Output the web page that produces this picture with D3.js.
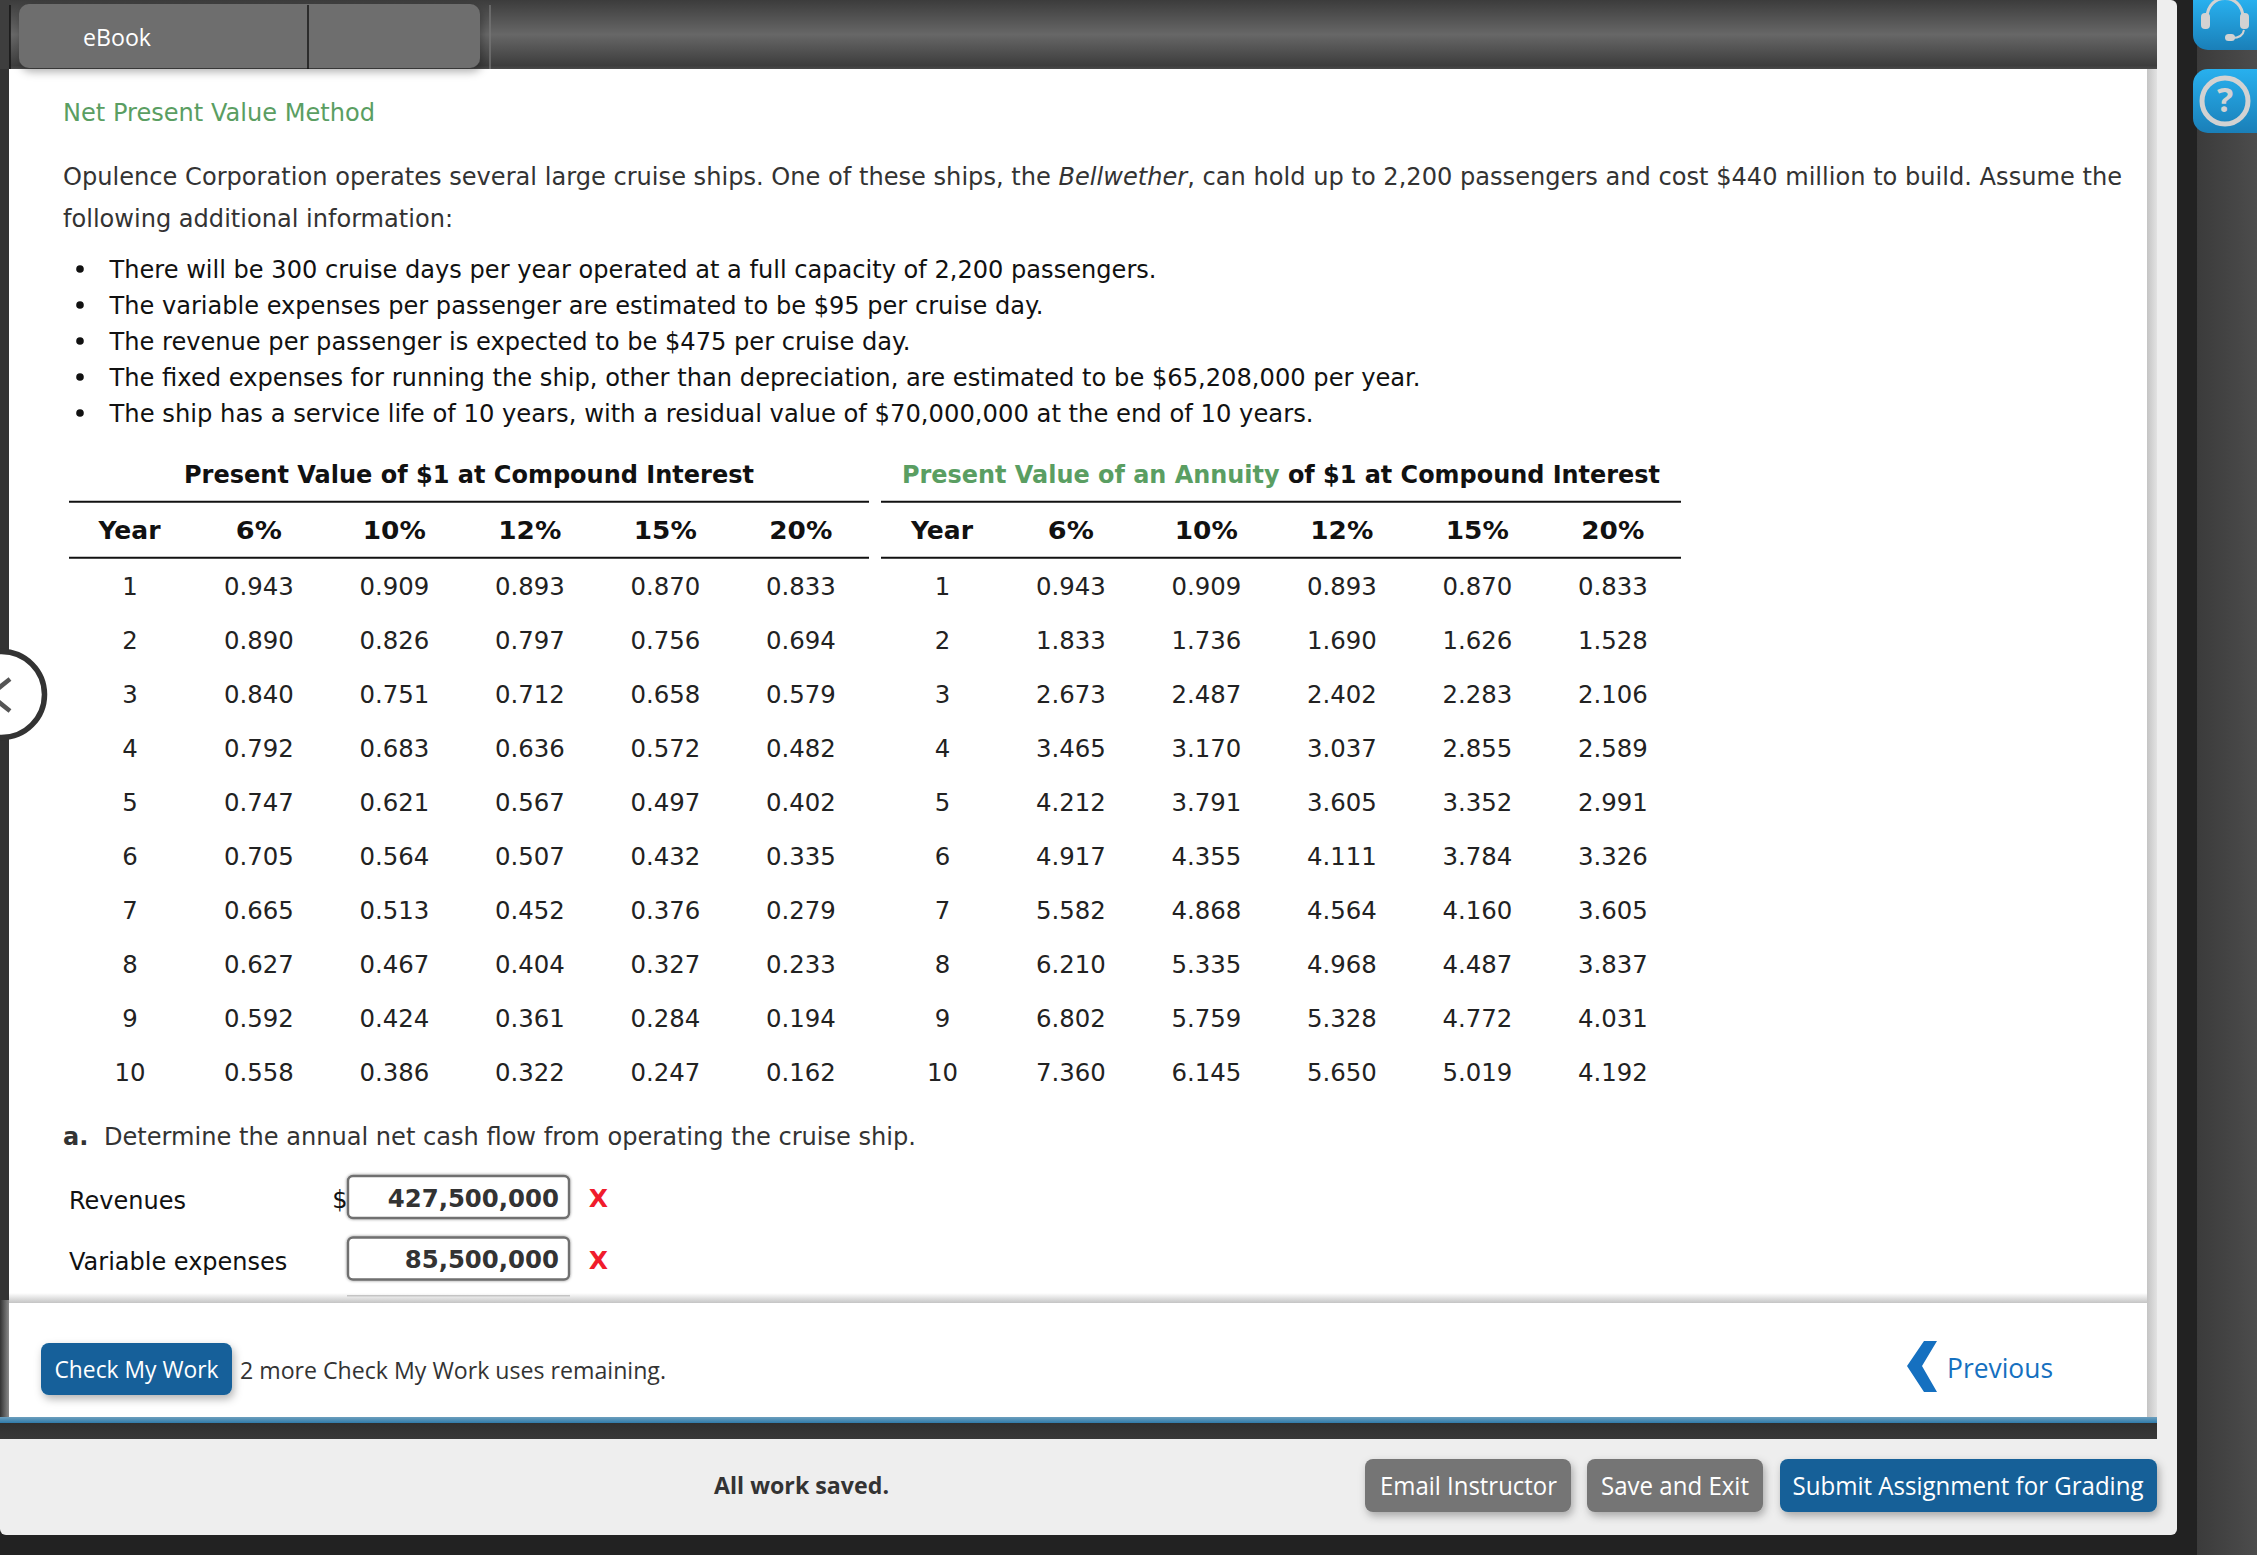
<!DOCTYPE html>
<html><head><meta charset="utf-8">
<script src="https://cdn.jsdelivr.net/npm/d3@7"></script>
<style>html,body{margin:0;padding:0;background:#222;overflow:hidden}svg{display:block}</style>
</head><body><svg id="c" width="2257" height="1555" viewBox="0 0 2257 1555"></svg>
<script>
const years = [1,2,3,4,5,6,7,8,9,10];
const rateLabels = ["6%","10%","12%","15%","20%"];
const pv6  = [0.943,0.890,0.840,0.792,0.747,0.705,0.665,0.627,0.592,0.558];
const pv10 = [0.909,0.826,0.751,0.683,0.621,0.564,0.513,0.467,0.424,0.386];
const pv12 = [0.893,0.797,0.712,0.636,0.567,0.507,0.452,0.404,0.361,0.322];
const pv15 = [0.870,0.756,0.658,0.572,0.497,0.432,0.376,0.327,0.284,0.247];
const pv20 = [0.833,0.694,0.579,0.482,0.402,0.335,0.279,0.233,0.194,0.162];
const an6  = [0.943,1.833,2.673,3.465,4.212,4.917,5.582,6.210,6.802,7.360];
const an10 = [0.909,1.736,2.487,3.170,3.791,4.355,4.868,5.335,5.759,6.145];
const an12 = [0.893,1.690,2.402,3.037,3.605,4.111,4.564,4.968,5.328,5.650];
const an15 = [0.870,1.626,2.283,2.855,3.352,3.784,4.160,4.487,4.772,5.019];
const an20 = [0.833,1.528,2.106,2.589,2.991,3.326,3.605,3.837,4.031,4.192];
const bullets = [
 "There will be 300 cruise days per year operated at a full capacity of 2,200 passengers.",
 "The variable expenses per passenger are estimated to be $95 per cruise day.",
 "The revenue per passenger is expected to be $475 per cruise day.",
 "The fixed expenses for running the ship, other than depreciation, are estimated to be $65,208,000 per year.",
 "The ship has a service life of 10 years, with a residual value of $70,000,000 at the end of 10 years."];
const bulletWidths = [1047,934,801,1311,1204];
const answerLabels = ["Revenues","Variable expenses"];
const answerValues = [427500000,85500000];

const svg = d3.select("#c");
const defs = svg.append("defs");
function grad(id,dir,stops){
  const g=defs.append("linearGradient").attr("id",id).attr("x1",0).attr("y1",0)
    .attr("x2",dir==="h"?1:0).attr("y2",dir==="h"?0:1);
  stops.forEach(s=>g.append("stop").attr("offset",s[0]).attr("stop-color",s[1]));
}
grad("bar","v",[[0,"#3c3c3c"],[.5,"#676767"],[.95,"#3d3d3d"],[1,"#4a4a4a"]]);
grad("sideR","h",[[0,"#3b3b3b"],[1,"#4c4c4c"]]);
grad("stripe","v",[[0,"#6d9fbd"],[1,"#2f7bab"]]);
grad("darkBand","v",[[0,"#2f2f2f"],[1,"#383838"]]);
grad("blueIcon","v",[[0,"#28b0ee"],[1,"#1a7fb8"]]);
grad("shadowR","h",[[0,"#c4c4c4"],[1,"#e2e2e2"]]);
grad("shadowT","v",[[0,"#ffffff"],[1,"#c4c4c4"]]);
grad("shadowL","h",[[0,"#333"],[1,"#8a8a8a"]]);
const sh=defs.append("filter").attr("id","ds").attr("x","-20%").attr("y","-20%").attr("width","140%").attr("height","150%");
sh.append("feDropShadow").attr("dx",2).attr("dy",4).attr("stdDeviation",4).attr("flood-color","#000").attr("flood-opacity",.3);
const soft=defs.append("filter").attr("id","is").attr("x","-5%").attr("y","-10%").attr("width","110%").attr("height","120%");
soft.append("feDropShadow").attr("dx",0).attr("dy",0).attr("stdDeviation",1.5).attr("flood-color","#000").attr("flood-opacity",.45);

const VERD="'DejaVu Sans',sans-serif", OPEN="'Open Sans',sans-serif";
function rect(x,y,w,h,fill,r){const s=svg.append("rect").attr("x",x).attr("y",y).attr("width",w).attr("height",h).attr("fill",fill);if(r)s.attr("rx",r);return s;}
function text(str,x,cy,o={}){
  const fs=o.size||24;
  const s=svg.append("text").attr("x",x).attr("y",cy+fs*0.36)
   .attr("font-family",o.font||VERD).attr("font-size",fs).attr("font-weight",o.bold?700:400)
   .attr("fill",o.fill||"#333").attr("text-anchor",o.anchor||"start");
  if(str) s.text(str);
  if(o.width) s.attr("textLength",o.width).attr("lengthAdjust","spacingAndGlyphs");
  return s;
}

/* page frame */
rect(0,0,2257,1555,"#222");
rect(2197,0,60,1555,"url(#sideR)");
rect(0,0,2177,1535,"#eeeeee",6);
rect(0,0,2157,69,"url(#bar)");
rect(0,69,9,1348,"#333");
rect(0,1300,9,117,"url(#shadowL)");
rect(9,69,2138,1348,"#fff");
rect(2147,69,10,1348,"url(#shadowR)");
rect(9,1293,2138,10,"url(#shadowT)");
rect(0,1417,2157,6,"url(#stripe)");
rect(0,1423,2157,16,"url(#darkBand)");
rect(0,0,10,69,"#3e3e3e");

/* tab */
rect(19,4,461,64,"#6e6e6e",10).attr("filter","url(#ds)");
[[10,"#111"],[308,"#111"],[490,"#777"]].forEach(d=>svg.append("line").attr("x1",d[0]).attr("x2",d[0]).attr("y1",5).attr("y2",69).attr("stroke",d[1]).attr("stroke-width",1.4));
text("eBook",83,37.5,{font:OPEN,size:24,fill:"#fff",width:68});

/* side icons */
svg.append("path").attr("d","M2193,0H2257V50H2208a15,15 0 0 1 -15,-15Z").attr("fill","url(#blueIcon)");
svg.append("path").attr("d","M2207,18C2207,-8 2243,-8 2243,18").attr("fill","none").attr("stroke","#d2d2d2").attr("stroke-width",3);
svg.append("rect").attr("x",2201).attr("y",13).attr("width",9).attr("height",16).attr("rx",4).attr("fill","#d2d2d2");
svg.append("rect").attr("x",2240).attr("y",13).attr("width",9).attr("height",16).attr("rx",4).attr("fill","#d2d2d2");
svg.append("path").attr("d","M2244,30C2243,36 2238,38 2232,38").attr("fill","none").attr("stroke","#d2d2d2").attr("stroke-width",2);
svg.append("rect").attr("x",2225).attr("y",34).attr("width",10).attr("height",7).attr("rx",3.5).attr("fill","#d2d2d2");
svg.append("path").attr("d","M2208,69H2257V133H2208a15,15 0 0 1 -15,-15V84a15,15 0 0 1 15,-15Z").attr("fill","url(#blueIcon)");
svg.append("circle").attr("cx",2225).attr("cy",101).attr("r",23).attr("fill","none").attr("stroke","#d2d2d2").attr("stroke-width",5);
text("?",2225,100,{font:OPEN,bold:true,size:34,fill:"#d2d2d2",anchor:"middle"});

/* heading + intro */
text("Net Present Value Method",63,112.5,{fill:"#5a9e62",size:24,width:312});
const intro=text(null,63,176,{size:24,width:2059});
intro.append("tspan").text("Opulence Corporation operates several large cruise ships. One of these ships, the ");
intro.append("tspan").attr("font-style","italic").text("Bellwether");
intro.append("tspan").text(", can hold up to 2,200 passengers and cost $440 million to build. Assume the");
text("following additional information:",63,218,{size:24,width:390});

/* bullets */
const bulletY=d3.scalePoint().domain(d3.range(bullets.length)).range([269,413]);
bullets.forEach((b,i)=>{
  svg.append("circle").attr("cx",80).attr("cy",bulletY(i)).attr("r",3.8).attr("fill","#111");
  text(b,109.5,bulletY(i),{fill:"#111",size:24,width:bulletWidths[i]});
});

/* tables */
const rowY=d3.scalePoint().domain(years).range([586,1072]);
const fmt=d3.format(".3f");
function table(x0,x1,yearX,colX0,cols){
  const xs=d3.scalePoint().domain(rateLabels).range([colX0,colX0+135.5*4]);
  [501.7,557.7].forEach(y=>svg.append("line").attr("x1",x0).attr("x2",x1).attr("y1",y).attr("y2",y).attr("stroke","#111").attr("stroke-width",2));
  text("Year",yearX,530,{bold:true,fill:"#111",anchor:"middle",size:24,width:62});
  rateLabels.forEach((r,k)=>text(r,xs(r),530,{bold:true,fill:"#111",anchor:"middle",size:25,width:k===0?46:63}));
  years.forEach((y,i)=>{
    text(String(y),yearX+0.5,rowY(y),{fill:"#222",anchor:"middle",size:24.4});
    cols.forEach((c,j)=>text(fmt(c[i]),xs(rateLabels[j]),rowY(y),{fill:"#222",anchor:"middle",size:24.4}));
  });
}
table(69,869,129.5,258.8,[pv6,pv10,pv12,pv15,pv20]);
table(881,1681,942,1070.8,[an6,an10,an12,an15,an20]);
text("Present Value of $1 at Compound Interest",184,474,{bold:true,fill:"#111",size:24,width:570});
const t2=text(null,902,474,{bold:true,fill:"#111",size:24,width:758});
t2.append("tspan").attr("fill","#5a9e62").text("Present Value of an Annuity");
t2.append("tspan").text(" of $1 at Compound Interest");

/* part a */
text("a.",63,1136,{bold:true,size:24,fill:"#333"});
text("Determine the annual net cash flow from operating the cruise ship.",104,1136,{size:24,fill:"#333",width:812});
const ansFmt=d3.format(",");
const ansY=d3.scalePoint().domain(answerLabels).range([1197,1258.5]);
answerLabels.forEach((l,i)=>{
  const cy=ansY(l);
  text(l,69,cy+3,{fill:"#111",size:24});
  rect(348,cy-21,221,42,"#fff",5).attr("stroke","#6f6f6f").attr("stroke-width",2.4).attr("filter","url(#is)");
  text(ansFmt(answerValues[i]),559,cy+1,{bold:true,anchor:"end",size:24.4,fill:"#333"});
  text("X",598.5,cy+1,{bold:true,anchor:"middle",size:25,fill:"#f01c2c"});
});
text("$",340,1199,{fill:"#111",anchor:"middle",size:24});
rect(347,1295,223,1.5,"#c4c4c4");

/* bottom bar */
rect(41,1343,191,52,"#13619a",8).attr("filter","url(#ds)");
text("Check My Work",136.5,1369,{font:OPEN,size:24,fill:"#fff",anchor:"middle",width:164});
text("2 more Check My Work uses remaining.",240,1371,{font:OPEN,size:23,fill:"#333",width:426});
svg.append("path").attr("d","M1937,1341H1924L1907,1366L1924,1392H1937L1922,1366Z").attr("fill","#1570c0");
text("Previous",1947,1368,{font:OPEN,size:28,fill:"#1570c0",width:106});

/* footer */
text("All work saved.",714,1486,{bold:true,size:23,fill:"#333",font:OPEN,width:175});
rect(1365,1459,206,53,"#757575",8).attr("filter","url(#ds)");
text("Email Instructor",1468.5,1486,{font:OPEN,size:25,fill:"#fff",anchor:"middle",width:177});
rect(1587,1459,176,53,"#757575",8).attr("filter","url(#ds)");
text("Save and Exit",1675,1486,{font:OPEN,size:25,fill:"#fff",anchor:"middle",width:148});
rect(1780,1459,377,53,"#156198",8).attr("filter","url(#ds)");
text("Submit Assignment for Grading",1968,1486,{font:OPEN,size:25,fill:"#fff",anchor:"middle",width:351});

/* carousel arrow */
svg.append("circle").attr("cx",1.5).attr("cy",694.5).attr("r",43).attr("fill","#fff").attr("stroke","#333").attr("stroke-width",5.5);
svg.append("path").attr("d","M10,679L-10,695L10,711").attr("fill","none").attr("stroke","#555").attr("stroke-width",4.5);
</script></body></html>
